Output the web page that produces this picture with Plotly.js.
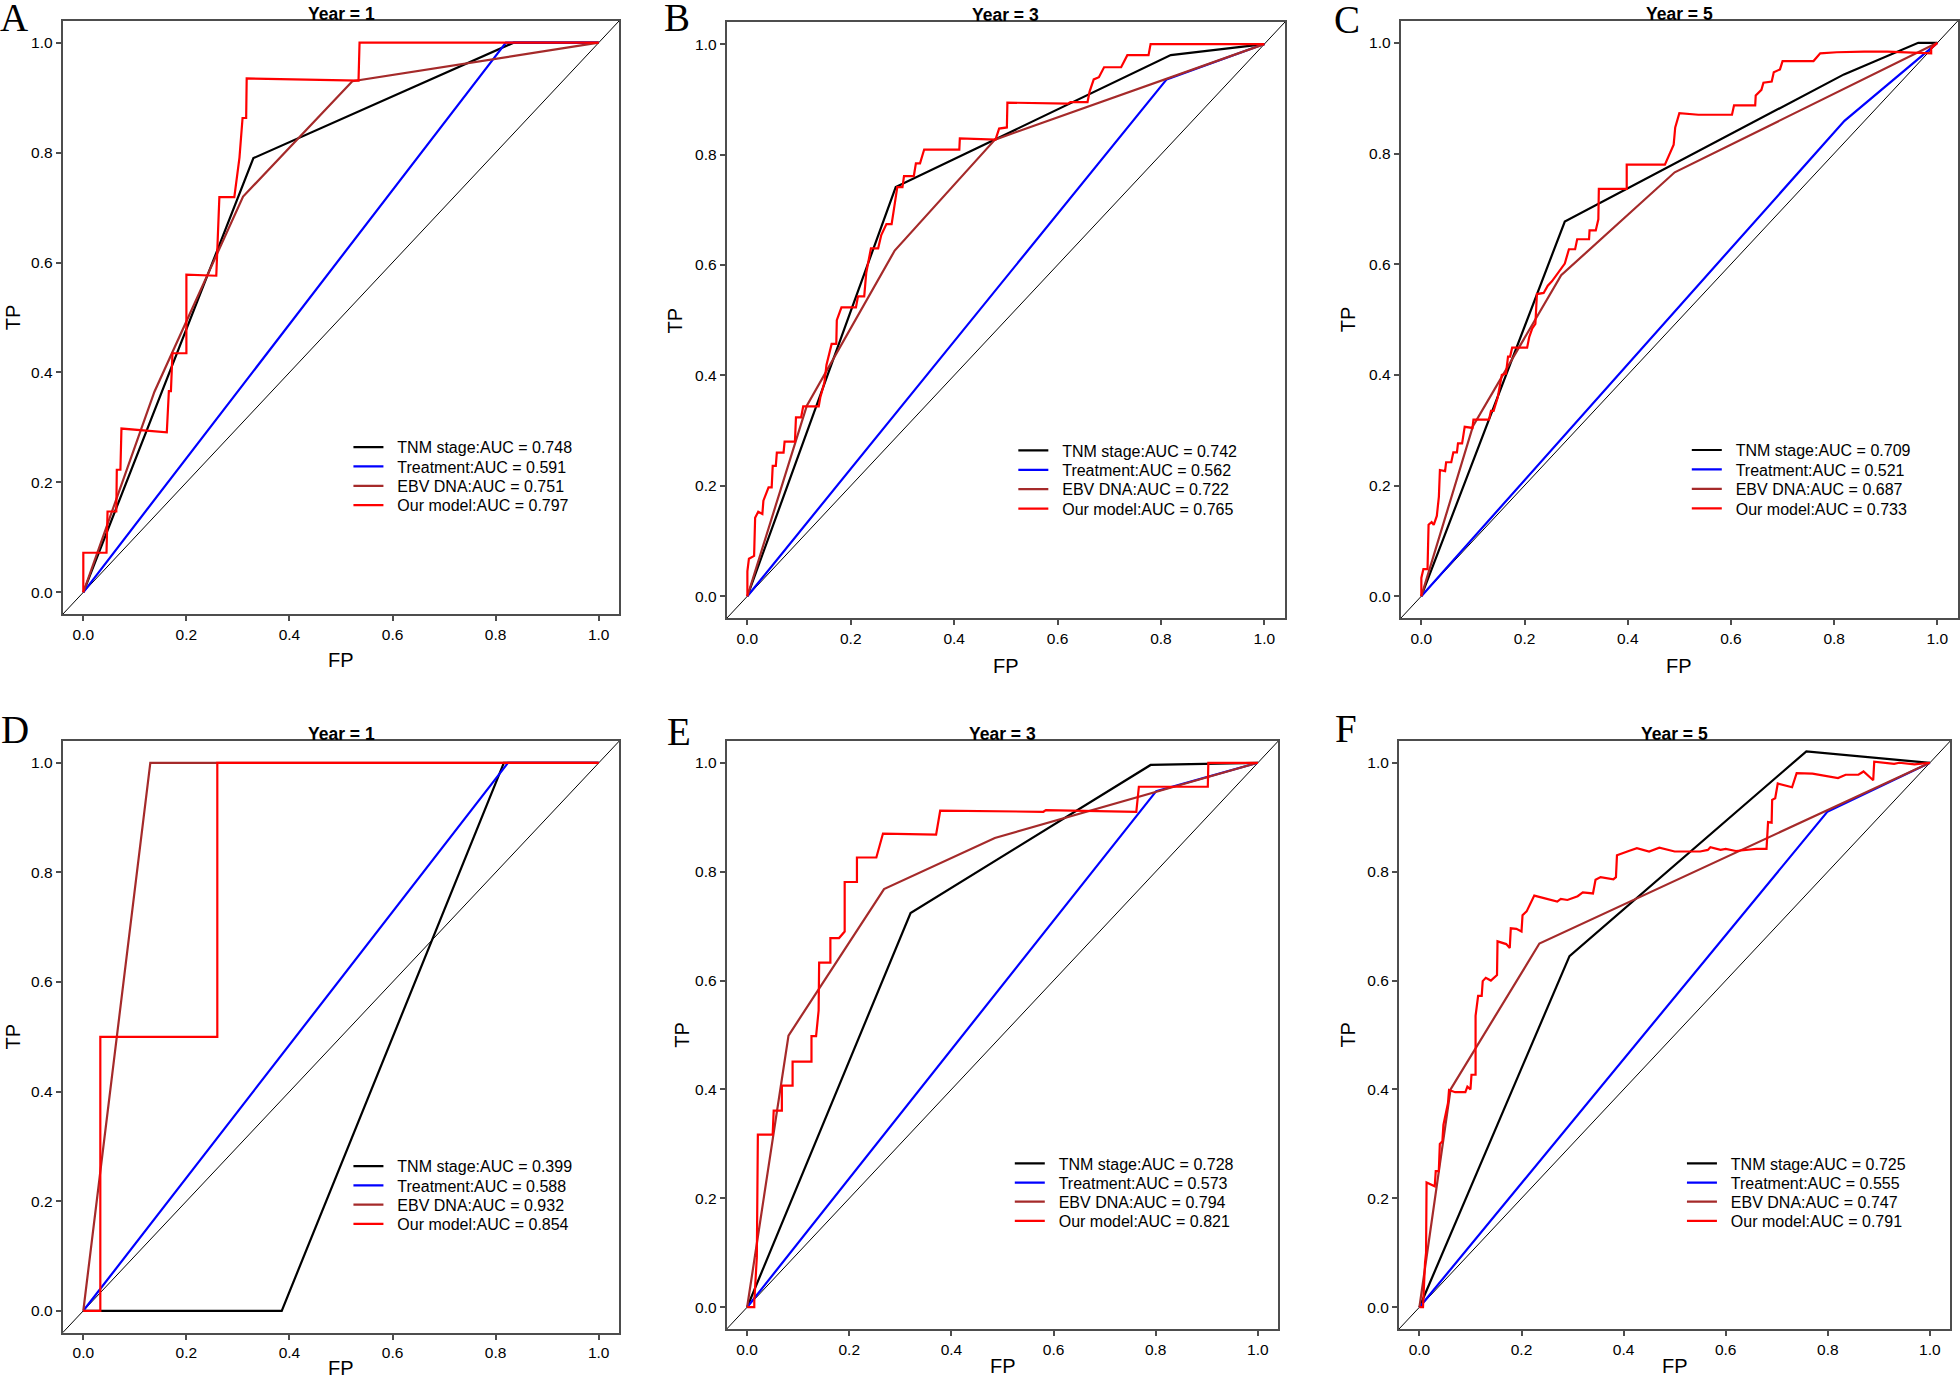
<!DOCTYPE html>
<html>
<head>
<meta charset="utf-8">
<script src="https://cdn.plot.ly/plotly-3.0.1.min.js"></script>
<style>
  html, body { margin: 0; padding: 0; background: #fff; }
  #rocgrid { width: 1960px; height: 1378px; }
</style>
</head>
<body>
<div id="rocgrid"></div>
<script>
//time-dependent ROC curves, 6 panels (two cohorts x year 1/3/5)
var tickVals = [0, 0.2, 0.4, 0.6, 0.8, 1.0];
var tickText = ['0.0', '0.2', '0.4', '0.6', '0.8', '1.0'];
var panelLetters = ['A', 'B', 'C', 'D', 'E', 'F'];
var panelYears = [1, 3, 5, 1, 3, 5];
var modelNames = ['TNM stage', 'Treatment', 'EBV DNA', 'Our model'];

//AUC per panel, same order as modelNames
var aucA = [0.748, 0.591, 0.751, 0.797];
var aucB = [0.742, 0.562, 0.722, 0.765];
var aucC = [0.709, 0.521, 0.687, 0.733];
var aucD = [0.399, 0.588, 0.932, 0.854];
var aucE = [0.728, 0.573, 0.794, 0.821];
var aucF = [0.725, 0.555, 0.747, 0.791];

//panel A
var fpA_tnm = [0, 0.33, 0.835, 1];
var tpA_tnm = [0, 0.79, 1, 1];
var fpA_trt = [0, 0.82, 1];
var tpA_trt = [0, 1, 1];
var fpA_ebv = [0, 0.138, 0.31, 0.522, 1];
var tpA_ebv = [0, 0.365, 0.72, 0.93, 1];
var fpA_mod = [0, 0, 0.045, 0.047, 0.064, 0.065, 0.072, 0.074, 0.162, 0.166, 0.170, 0.173, 0.200, 0.200, 0.258, 0.264, 0.293, 0.303, 0.309, 0.316, 0.317, 0.534, 0.536, 1];
var tpA_mod = [0, 0.072, 0.072, 0.147, 0.147, 0.223, 0.223, 0.298, 0.291, 0.366, 0.366, 0.435, 0.435, 0.578, 0.576, 0.719, 0.719, 0.791, 0.863, 0.863, 0.935, 0.931, 1.0, 1.0];

//panel B
var fpB_tnm = [0, 0.287, 0.819, 1];
var tpB_tnm = [0, 0.741, 0.98, 1];
var fpB_trt = [0, 0.811, 1];
var tpB_trt = [0, 0.936, 1];
var fpB_ebv = [0, 0.115, 0.285, 0.479, 1];
var tpB_ebv = [0, 0.345, 0.626, 0.827, 1];
var fpB_mod = [0, 0, 0.003, 0.013, 0.015, 0.021, 0.029, 0.031, 0.041, 0.047, 0.049, 0.055, 0.057, 0.070, 0.072, 0.092, 0.094, 0.104, 0.108, 0.138, 0.141, 0.149, 0.153, 0.163, 0.172, 0.173, 0.182, 0.210, 0.214, 0.226, 0.230, 0.239, 0.253, 0.259, 0.269, 0.279, 0.283, 0.290, 0.300, 0.303, 0.322, 0.326, 0.334, 0.342, 0.410, 0.411, 0.480, 0.487, 0.502, 0.503, 0.620, 0.625, 0.658, 0.662, 0.670, 0.680, 0.690, 0.723, 0.735, 0.776, 0.780, 1];
var tpB_mod = [0, 0.045, 0.068, 0.073, 0.142, 0.153, 0.149, 0.173, 0.197, 0.197, 0.236, 0.236, 0.260, 0.260, 0.280, 0.280, 0.324, 0.324, 0.344, 0.344, 0.360, 0.387, 0.419, 0.457, 0.457, 0.500, 0.523, 0.523, 0.543, 0.543, 0.586, 0.630, 0.630, 0.654, 0.674, 0.674, 0.698, 0.741, 0.741, 0.761, 0.761, 0.784, 0.784, 0.809, 0.809, 0.829, 0.827, 0.847, 0.849, 0.894, 0.892, 0.895, 0.895, 0.914, 0.936, 0.940, 0.958, 0.958, 0.980, 0.980, 1.0, 1.0];

//panel C
var fpC_tnm = [0, 0.278, 0.819, 0.963, 1];
var tpC_tnm = [0, 0.677, 0.943, 1, 1];
var fpC_trt = [0, 0.82, 1];
var tpC_trt = [0, 0.859, 1];
var fpC_ebv = [0, 0.1, 0.271, 0.491, 1];
var tpC_ebv = [0, 0.307, 0.58, 0.766, 1];
var fpC_mod = [0, 0, 0.004, 0.012, 0.014, 0.020, 0.024, 0.030, 0.034, 0.036, 0.046, 0.048, 0.058, 0.062, 0.069, 0.071, 0.079, 0.084, 0.099, 0.101, 0.131, 0.135, 0.140, 0.148, 0.156, 0.164, 0.168, 0.172, 0.176, 0.205, 0.209, 0.215, 0.221, 0.224, 0.237, 0.245, 0.253, 0.265, 0.278, 0.286, 0.298, 0.302, 0.325, 0.326, 0.338, 0.343, 0.344, 0.398, 0.398, 0.472, 0.481, 0.489, 0.492, 0.500, 0.537, 0.602, 0.606, 0.647, 0.648, 0.659, 0.663, 0.679, 0.683, 0.695, 0.700, 0.760, 0.773, 0.805, 0.858, 0.903, 0.988, 0.988, 1];
var tpC_mod = [0, 0.033, 0.049, 0.049, 0.129, 0.134, 0.129, 0.145, 0.180, 0.228, 0.226, 0.242, 0.242, 0.260, 0.260, 0.276, 0.276, 0.306, 0.304, 0.319, 0.319, 0.335, 0.335, 0.359, 0.400, 0.402, 0.433, 0.433, 0.449, 0.449, 0.468, 0.484, 0.492, 0.546, 0.548, 0.561, 0.569, 0.585, 0.601, 0.627, 0.627, 0.645, 0.645, 0.661, 0.661, 0.681, 0.736, 0.736, 0.780, 0.780, 0.800, 0.816, 0.847, 0.873, 0.870, 0.870, 0.887, 0.887, 0.905, 0.915, 0.928, 0.930, 0.947, 0.952, 0.967, 0.967, 0.981, 0.983, 0.984, 0.984, 0.981, 0.990, 1];

//panel D
var fpD_tnm = [0, 0.385, 0.816, 1];
var tpD_tnm = [0, 0, 1, 1];
var fpD_trt = [0, 0.824, 1];
var tpD_trt = [0, 1, 1];
var fpD_ebv = [0, 0.13, 1];
var tpD_ebv = [0, 1, 1];
var fpD_mod = [0, 0.033, 0.033, 0.26, 0.26, 1];
var tpD_mod = [0, 0, 0.5, 0.5, 1, 1];

//panel E
var fpE_tnm = [0, 0.32, 0.79, 1];
var tpE_tnm = [0, 0.724, 0.996, 1];
var fpE_trt = [0, 0.801, 1];
var tpE_trt = [0, 0.948, 1];
var fpE_ebv = [0, 0.081, 0.268, 0.485, 1];
var tpE_ebv = [0, 0.499, 0.768, 0.862, 1];
var fpE_mod = [0, 0.014, 0.014, 0.019, 0.021, 0.050, 0.052, 0.068, 0.068, 0.089, 0.089, 0.126, 0.126, 0.135, 0.140, 0.141, 0.163, 0.163, 0.180, 0.191, 0.191, 0.215, 0.215, 0.253, 0.266, 0.370, 0.378, 0.580, 0.585, 0.762, 0.767, 0.902, 0.903, 1];
var tpE_mod = [0, 0, 0.010, 0.092, 0.317, 0.317, 0.361, 0.361, 0.407, 0.407, 0.451, 0.451, 0.498, 0.498, 0.545, 0.633, 0.633, 0.678, 0.678, 0.690, 0.781, 0.781, 0.826, 0.826, 0.870, 0.868, 0.912, 0.910, 0.913, 0.910, 0.956, 0.956, 1.0, 1.0];

//panel F
var fpF_tnm = [0, 0.294, 0.758, 1];
var tpF_tnm = [0, 0.645, 1.021, 1];
var fpF_trt = [0, 0.799, 1];
var tpF_trt = [0, 0.91, 1];
var fpF_ebv = [0, 0.061, 0.235, 1];
var tpF_ebv = [0, 0.4, 0.668, 1];
var fpF_mod = [0, 0.007, 0.011, 0.013, 0.014, 0.030, 0.032, 0.038, 0.040, 0.045, 0.047, 0.053, 0.056, 0.058, 0.070, 0.090, 0.094, 0.100, 0.102, 0.110, 0.110, 0.115, 0.122, 0.124, 0.130, 0.140, 0.152, 0.153, 0.170, 0.177, 0.179, 0.190, 0.200, 0.202, 0.210, 0.225, 0.250, 0.270, 0.277, 0.290, 0.310, 0.320, 0.340, 0.345, 0.355, 0.380, 0.385, 0.387, 0.410, 0.426, 0.450, 0.470, 0.500, 0.550, 0.565, 0.570, 0.590, 0.600, 0.620, 0.660, 0.680, 0.683, 0.690, 0.691, 0.697, 0.702, 0.730, 0.739, 0.770, 0.800, 0.820, 0.835, 0.860, 0.870, 0.889, 0.891, 0.930, 0.940, 0.970, 1];
var tpF_mod = [0, 0, 0.082, 0.100, 0.229, 0.222, 0.250, 0.250, 0.300, 0.305, 0.335, 0.360, 0.375, 0.399, 0.395, 0.395, 0.405, 0.400, 0.427, 0.427, 0.535, 0.572, 0.572, 0.599, 0.605, 0.600, 0.610, 0.672, 0.667, 0.660, 0.696, 0.695, 0.690, 0.720, 0.727, 0.756, 0.750, 0.745, 0.750, 0.748, 0.755, 0.762, 0.760, 0.785, 0.790, 0.786, 0.790, 0.830, 0.838, 0.843, 0.837, 0.844, 0.837, 0.837, 0.840, 0.845, 0.840, 0.842, 0.838, 0.842, 0.842, 0.891, 0.890, 0.932, 0.935, 0.962, 0.955, 0.981, 0.980, 0.975, 0.972, 0.978, 0.978, 0.984, 0.968, 1.002, 0.998, 1.000, 0.997, 1];

var panels = [
  {auc: aucA, fp: [fpA_tnm, fpA_trt, fpA_ebv, fpA_mod], tp: [tpA_tnm, tpA_trt, tpA_ebv, tpA_mod]},
  {auc: aucB, fp: [fpB_tnm, fpB_trt, fpB_ebv, fpB_mod], tp: [tpB_tnm, tpB_trt, tpB_ebv, tpB_mod]},
  {auc: aucC, fp: [fpC_tnm, fpC_trt, fpC_ebv, fpC_mod], tp: [tpC_tnm, tpC_trt, tpC_ebv, tpC_mod]},
  {auc: aucD, fp: [fpD_tnm, fpD_trt, fpD_ebv, fpD_mod], tp: [tpD_tnm, tpD_trt, tpD_ebv, tpD_mod]},
  {auc: aucE, fp: [fpE_tnm, fpE_trt, fpE_ebv, fpE_mod], tp: [tpE_tnm, tpE_trt, tpE_ebv, tpE_mod]},
  {auc: aucF, fp: [fpF_tnm, fpF_trt, fpF_ebv, fpF_mod], tp: [tpF_tnm, tpF_trt, tpF_ebv, tpF_mod]}
];

//---- look & placement ----
var W = 1960, H = 1378;
var FONT = 'Liberation Sans, Arial, sans-serif';
var AXIS_RANGE = [-0.04, 1.04];
var modelColors = ['#000000', '#0000ff', '#a52a2a', '#ff0000'];
//plot boxes in px: left, right, top, bottom
var plotBoxes = [
  [62.7, 619.3, 20.7, 614.3],
  [726.7, 1285, 22, 618.3],
  [1400.7, 1958, 20.7, 618.3],
  [62.7, 619.3, 741, 1332.7],
  [726.7, 1278.3, 741, 1329],
  [1399, 1950.3, 741, 1329]
];
var letterPos = [[14, 17.5], [676.5, 17], [1347, 19], [15, 729], [679, 731], [1346, 728]];
var tpGap = [50, 51.4, 53, 50, 45, 51.4];
var fpCenterY = [660, 666, 666, 1368, 1366, 1366];
//legend placement in data units of each panel
var LEG_X = 0.528, LEG_TOP = 0.264, LEG_STEP = 0.0352, LEG_LINE_OFFSET = 7;
var LEG_PAD = '\u00a0\u00a0';

function pxX(box, v) { return box[0] + (v - AXIS_RANGE[0]) / (AXIS_RANGE[1] - AXIS_RANGE[0]) * (box[1] - box[0]); }
function pxY(box, v) { return box[2] + (AXIS_RANGE[1] - v) / (AXIS_RANGE[1] - AXIS_RANGE[0]) * (box[3] - box[2]); }

function axisStyle(domain, anchor) {
  return {
    domain: domain, anchor: anchor, range: AXIS_RANGE, autorange: false,
    showgrid: false, zeroline: false,
    showline: true, mirror: true, linecolor: '#4d4d4d', linewidth: 2,
    ticks: 'outside', ticklen: 5, tickwidth: 1.5, tickcolor: '#4d4d4d',
    tickmode: 'array', tickvals: tickVals, ticktext: tickText,
    tickfont: {family: FONT, size: 15.5, color: '#000'},
    fixedrange: true
  };
}

var data = [];
var shapes = [];
var annotations = [];
var layout = {
  width: W, height: H,
  margin: {l: 0, r: 0, t: 0, b: 0},
  paper_bgcolor: '#fff', plot_bgcolor: '#fff',
  font: {family: FONT, color: '#000'},
  showlegend: true
};

var legCount = 0;
panels.forEach(function (p, i) {
  var n = i === 0 ? '' : String(i + 1);
  var box = plotBoxes[i];
  layout['xaxis' + n] = axisStyle([box[0] / W, box[1] / W], 'y' + n);
  layout['yaxis' + n] = axisStyle([1 - box[3] / H, 1 - box[2] / H], 'x' + n);

  //chance line, corner to corner
  shapes.push({type: 'line', xref: 'x' + n + ' domain', yref: 'y' + n + ' domain',
    x0: 0, y0: 0, x1: 1, y1: 1, layer: 'below', line: {color: '#000', width: 1}});

  p.fp.forEach(function (fp, k) {
    legCount++;
    var legId = legCount === 1 ? 'legend' : 'legend' + legCount;
    data.push({
      x: fp, y: p.tp[k], xaxis: 'x' + n, yaxis: 'y' + n,
      type: 'scatter', mode: 'lines',
      line: {color: modelColors[k], width: 2.2},
      name: LEG_PAD + modelNames[k] + ':AUC = ' + p.auc[k].toFixed(3),
      legend: legId, hoverinfo: 'skip'
    });
    var rowY = pxY(box, LEG_TOP - LEG_STEP * k);
    layout[legId] = {
      x: (pxX(box, LEG_X) - LEG_LINE_OFFSET) / W, y: 1 - rowY / H,
      xref: 'paper', yref: 'paper', xanchor: 'left', yanchor: 'middle',
      bgcolor: 'rgba(0,0,0,0)', borderwidth: 0, itemwidth: 30,
      font: {family: FONT, size: 16, color: '#000'}
    };
  });

  var cx = (box[0] + box[1]) / 2, cy = (box[2] + box[3]) / 2;
  //Year title
  annotations.push({text: '<b>Year = ' + panelYears[i] + '</b>', xref: 'paper', yref: 'paper',
    x: cx / W, y: 1 - box[2] / H, xanchor: 'center', yanchor: 'bottom', yshift: -5,
    showarrow: false, font: {family: FONT, size: 17.5, color: '#000'}});
  //axis titles
  annotations.push({text: 'FP', xref: 'paper', yref: 'paper', x: cx / W, y: 1 - fpCenterY[i] / H,
    xanchor: 'center', yanchor: 'middle', showarrow: false, font: {family: FONT, size: 20, color: '#000'}});
  annotations.push({text: 'TP', xref: 'paper', yref: 'paper', x: (box[0] - tpGap[i]) / W, y: 1 - cy / H,
    xanchor: 'center', yanchor: 'middle', textangle: -90, showarrow: false,
    font: {family: FONT, size: 20, color: '#000'}});
  //panel letter
  annotations.push({text: panelLetters[i], xref: 'paper', yref: 'paper',
    x: letterPos[i][0] / W, y: 1 - letterPos[i][1] / H, xanchor: 'center', yanchor: 'middle',
    showarrow: false, font: {family: 'Liberation Serif, Times New Roman, serif', size: 39, color: '#000'}});
});

layout.shapes = shapes;
layout.annotations = annotations;

Plotly.newPlot('rocgrid', data, layout, {displayModeBar: false});
</script>
</body>
</html>
